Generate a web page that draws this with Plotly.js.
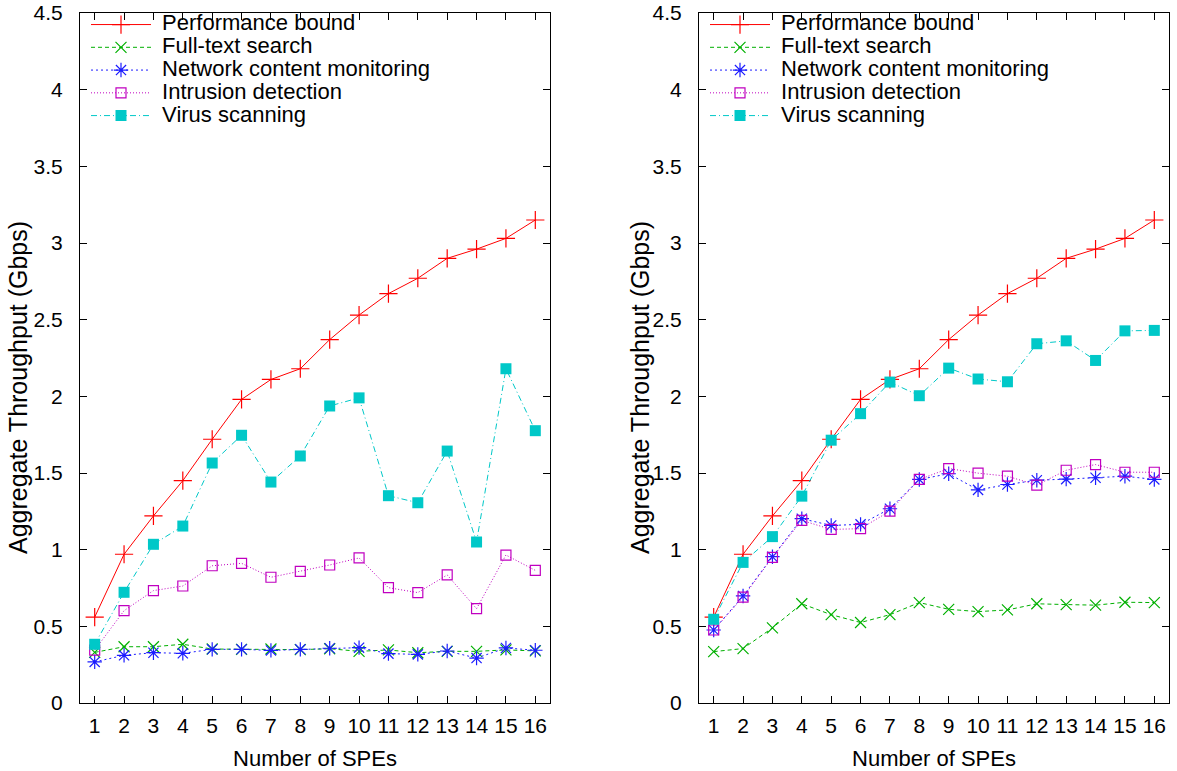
<!DOCTYPE html>
<html>
<head>
<meta charset="utf-8">
<script src="https://cdn.plot.ly/plotly-3.0.1.min.js"></script>
<style>html,body{margin:0;padding:0;background:#fff;}#chart{width:1177px;height:771px;}</style>
</head>
<body>
<div id="chart"></div>
<script>
const spes = [1,2,3,4,5,6,7,8,9,10,11,12,13,14,15,16];
const seriesNames = ["Performance bound","Full-text search","Network content monitoring","Intrusion detection","Virus scanning"];
const yTickVals = [0,0.5,1,1.5,2,2.5,3,3.5,4,4.5];
const yTickText = ["0","0.5","1","1.5","2","2.5","3","3.5","4","4.5"];
const xTitle = "Number of SPEs";
const yTitle = "Aggregate Throughput (Gbps)";

const perfBound = [0.56,0.97,1.22,1.45,1.72,1.98,2.11,2.18,2.37,2.53,2.67,2.77,2.90,2.96,3.03,3.15];

const leftFullText = [0.33,0.367,0.367,0.383,0.352,0.35,0.352,0.348,0.354,0.337,0.346,0.328,0.337,0.337,0.346,0.34];
const leftNetwork = [0.268,0.311,0.328,0.324,0.35,0.35,0.343,0.35,0.357,0.361,0.322,0.317,0.339,0.293,0.359,0.344];
const leftIntrusion = [0.345,0.602,0.733,0.763,0.895,0.911,0.82,0.859,0.9,0.946,0.752,0.72,0.835,0.615,0.965,0.865];
const leftVirus = [0.383,0.722,1.035,1.154,1.565,1.746,1.441,1.611,1.937,1.99,1.352,1.306,1.643,1.05,2.18,1.776];

const rightFullText = [0.335,0.355,0.49,0.647,0.576,0.525,0.576,0.655,0.611,0.596,0.607,0.647,0.642,0.638,0.657,0.655];
const rightNetwork = [0.476,0.698,0.954,1.202,1.158,1.165,1.267,1.458,1.495,1.39,1.425,1.453,1.46,1.469,1.479,1.458];
const rightIntrusion = [0.476,0.69,0.95,1.191,1.132,1.137,1.252,1.458,1.529,1.499,1.479,1.421,1.518,1.555,1.505,1.505];
const rightVirus = [0.546,0.917,1.085,1.349,1.714,1.887,2.093,2.004,2.184,2.113,2.095,2.343,2.362,2.234,2.427,2.43];

const styles = [
  {color:'#ff0000', dash:'solid', symbol:'cross-thin-open', size:13},
  {color:'#00b000', dash:'4px,3px', symbol:'x-thin-open', size:11},
  {color:'#1c1cff', dash:'2px,3px', symbol:'asterisk-open', size:12},
  {color:'#c000c0', dash:'1px,2px', symbol:'square-open', size:10},
  {color:'#00c8c8', dash:'6px,3px,1px,3px', symbol:'square', size:11}
];

function mk(yvals, i, xa, ya, leg) {
  const s = styles[i];
  const filled = s.symbol === 'square';
  return {
    x: spes, y: yvals, xaxis: xa, yaxis: ya, legend: leg,
    type: 'scatter', mode: 'lines+markers',
    name: '<span style="font-size:22px">\u00a0' + seriesNames[i] + '</span>',
    line: {color: s.color, width: 1, dash: s.dash},
    marker: {symbol: s.symbol, size: s.size, color: s.color,
             line: {color: s.color, width: filled ? 0 : 1.2}},
    hoverinfo: 'x+y'
  };
}

const leftSets = [perfBound, leftFullText, leftNetwork, leftIntrusion, leftVirus];
const rightSets = [perfBound, rightFullText, rightNetwork, rightIntrusion, rightVirus];
const data = [];
leftSets.forEach((v,i)=>data.push(mk(v,i,'x','y','legend')));
rightSets.forEach((v,i)=>data.push(mk(v,i,'x2','y2','legend2')));

const fontFam = '"Liberation Sans", Arial, sans-serif';
const W = 1177;
function xax(d0, d1, anchor) {
  return {
    domain: [d0/W, d1/W], anchor: anchor, range: [0.5, 16.5],
    tickmode: 'array', tickvals: spes, ticktext: spes.map(String),
    ticks: 'inside', ticklen: 7, tickwidth: 1, tickcolor: '#000',
    showline: true, linecolor: '#000', linewidth: 1, mirror: 'ticks',
    showgrid: false, zeroline: false,
    tickfont: {family: fontFam, size: 21, color: '#000'},
    ticklabelstandoff: 4,
    title: {text: xTitle, font: {family: fontFam, size: 22, color: '#000'}, standoff: 15}
  };
}
function yax(anchor) {
  return {
    domain: [0, 1], anchor: anchor, range: [0, 4.5],
    tickmode: 'array', tickvals: yTickVals, ticktext: yTickText,
    ticks: 'inside', ticklen: 7, tickwidth: 1, tickcolor: '#000',
    showline: true, linecolor: '#000', linewidth: 1, mirror: 'ticks',
    showgrid: false, zeroline: false,
    tickfont: {family: fontFam, size: 21, color: '#000'},
    ticklabelstandoff: 12
  };
}
function leg(px) {
  return {
    x: px/W, y: 1.007, xanchor: 'left', yanchor: 'top',
    bgcolor: 'rgba(0,0,0,0)', borderwidth: 0,
    font: {family: fontFam, size: 15.2, color: '#000'},
    itemwidth: 60, tracegroupgap: 0
  };
}
function ytitleAnn(px) {
  return {
    text: yTitle, xref: 'paper', yref: 'paper',
    x: px/W, y: 1 - (388-13)/690, xanchor: 'center', yanchor: 'middle',
    textangle: -90, showarrow: false,
    font: {family: fontFam, size: 25, color: '#000'}
  };
}

const layout = {
  width: 1177, height: 771,
  margin: {l: 0, r: 0, t: 13, b: 68},
  paper_bgcolor: '#fff', plot_bgcolor: '#fff',
  font: {family: fontFam, color: '#000'},
  showlegend: true,
  xaxis: xax(80, 550, 'y'),
  yaxis: yax('x'),
  xaxis2: xax(699, 1169, 'y2'),
  yaxis2: yax('x2'),
  legend: leg(86),
  legend2: leg(705),
  annotations: [ytitleAnn(18), ytitleAnn(640)]
};

Plotly.newPlot('chart', data, layout, {staticPlot: true, displayModeBar: false});
</script>
</body>
</html>
